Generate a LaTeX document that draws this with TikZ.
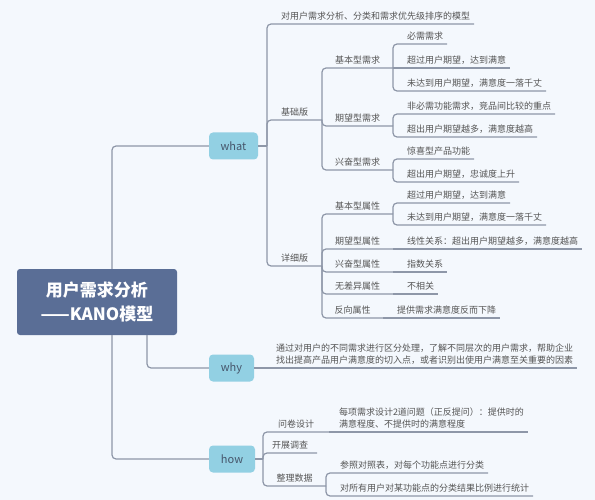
\documentclass[tikz,border=0pt]{standalone}
\usepackage{fontspec}
\setmainfont{Noto Sans CJK SC}
\definecolor{bgc}{HTML}{F4F8FD}
\definecolor{rootc}{HTML}{5A6E96}
\definecolor{topicc}{HTML}{92D0E3}
\definecolor{topictxt}{HTML}{46566B}
\definecolor{linec}{HTML}{8E97A8}
\definecolor{txtc}{HTML}{555555}
\begin{document}
\begin{tikzpicture}[x=1pt, y=-1pt,
  root/.style = {fill=rootc, rounded corners=3pt, minimum width=160pt, minimum height=66pt, text=white, align=center, font=\fontsize{17}{24}\selectfont\bfseries},
  topic/.style = {fill=topicc, rounded corners=4pt, minimum height=27pt, text=topictxt, font=\fontsize{11}{13}\selectfont},
  sub/.style = {anchor=south west, inner xsep=0pt, inner ysep=4pt, outer sep=0pt, text=txtc, font=\fontsize{9}{11.5}\selectfont},
  leaf/.style = {sub, inner xsep=4pt, align=left},
  conn/.style = {draw=linec, line width=1.2pt, rounded corners=4pt}]
\fill[bgc] (0,0) rectangle (595,500);
\useasboundingbox (0,0) rectangle (595,500);
\node[root] (r) at (97,302) {用户需求分析\\——KANO模型};
\node[topic, minimum width=49pt] (w) at (233.5,146) {what};
\node[topic, minimum width=45pt] (y) at (231.5,368) {why};
\node[topic, minimum width=46pt] (h) at (232,459) {how};
\coordinate (wj) at (267,146);
\coordinate (hj) at (263,459);
\node[leaf] (w0) at (277,24) {对用户需求分析、分类和需求优先级排序的模型};
\node[sub, minimum width=55pt] (w1) at (267,120) {基础版};
\node[sub, minimum width=55pt] (w2) at (267,266) {详细版};
\node[sub, minimum width=71pt] (b1) at (322,68) {基本型需求};
\node[sub, minimum width=71pt] (b2) at (322,126) {期望型需求};
\node[sub, minimum width=71pt] (b3) at (322,170) {兴奋型需求};
\node[leaf] (b11) at (403,44) {必需需求};
\node[leaf] (b12) at (403,68) {超过用户期望，达到满意};
\node[leaf] (b13) at (403,91) {未达到用户期望，满意度一落千丈};
\node[leaf] (b21) at (403,114) {非必需功能需求，竞品间比较的重点};
\node[leaf] (b22) at (403,137) {超出用户期望越多，满意度越高};
\node[leaf] (b31) at (403,159) {惊喜型产品功能};
\node[leaf] (b32) at (403,182) {超出用户期望，忠诚度上升};
\node[sub, minimum width=71pt] (d1) at (322,214) {基本型属性};
\node[sub, minimum width=71pt] (d2) at (322,249) {期望型属性};
\node[sub, minimum width=71pt] (d3) at (322,272) {兴奋型属性};
\node[sub, minimum width=71pt] (d4) at (322,294) {无差异属性};
\node[sub, minimum width=61pt] (d5) at (322,318) {反向属性};
\node[leaf] (d11) at (403,203) {超过用户期望，达到满意};
\node[leaf] (d12) at (403,225) {未达到用户期望，满意度一落千丈};
\node[leaf] (d21) at (403,249) {线性关系：超出用户期望越多，满意度越高};
\node[leaf] (d31) at (403,272) {指数关系};
\node[leaf] (d41) at (403,294) {不相关};
\node[leaf] (d51) at (393,318) {提供需求满意度反而下降};
\node[leaf] (y1) at (272,368) {通过对用户的不同需求进行区分处理，了解不同层次的用户需求，帮助企业\\找出提高产品用户满意度的切入点，或者识别出使用户满意至关重要的因素};
\node[sub, minimum width=66pt] (h1) at (263,432) {问卷设计};
\node[sub, minimum width=54pt] (h2) at (263,453) {开展调查};
\node[sub, minimum width=63pt] (h3) at (263,486) {整理数据};
\node[leaf] (h11) at (335,432) {每项需求设计2道问题（正反提问）：提供时的\\满意程度、不提供时的满意程度};
\node[leaf] (h31) at (336,473) {参照对照表，对每个功能点进行分类};
\node[leaf] (h32) at (336,496) {对所有用户对某功能点的分类结果比例进行统计};
\draw[conn] ([xshift=15pt]r.north) |- (w.west);
\draw[conn] ([xshift=50pt]r.south) |- (y.west);
\draw[conn] ([xshift=15pt]r.south) |- (h.west);
\draw[conn] (w.east) -- (wj);
\draw[conn] (wj) |- (w0.south east);
\draw[conn] (wj) |- (w1.south east);
\draw[conn] (wj) |- (w2.south east);
\draw[conn] (w1.south east) |- (b1.south east);
\draw[conn] (w1.south east) |- (b2.south east);
\draw[conn] (w1.south east) |- (b3.south east);
\draw[conn] (b1.south east) |- (b11.south east);
\draw[conn] (b1.south east) -- (b12.south east);
\draw[conn] (b1.south east) |- (b13.south east);
\draw[conn] (b2.south east) |- (b21.south east);
\draw[conn] (b2.south east) |- (b22.south east);
\draw[conn] (b3.south east) |- (b31.south east);
\draw[conn] (b3.south east) |- (b32.south east);
\draw[conn] (w2.south east) |- (d1.south east);
\draw[conn] (w2.south east) |- (d2.south east);
\draw[conn] (w2.south east) |- (d3.south east);
\draw[conn] (w2.south east) |- (d4.south east);
\draw[conn] (w2.south east) |- (d5.south east);
\draw[conn] (d1.south east) |- (d11.south east);
\draw[conn] (d1.south east) |- (d12.south east);
\draw[conn] (d2.south east) -- (d21.south east);
\draw[conn] (d3.south east) -- (d31.south east);
\draw[conn] (d4.south east) -- (d41.south east);
\draw[conn] (d5.south east) -- (d51.south east);
\draw[conn] (y.east) -- (y1.south east);
\draw[conn] (h.east) -- (hj);
\draw[conn] (hj) |- (h1.south east);
\draw[conn] (hj) |- (h2.south east);
\draw[conn] (hj) |- (h3.south east);
\draw[conn] (h1.south east) -- (h11.south east);
\draw[conn] (h3.south east) |- (h31.south east);
\draw[conn] (h3.south east) |- (h32.south east);
\end{tikzpicture}
\end{document}
